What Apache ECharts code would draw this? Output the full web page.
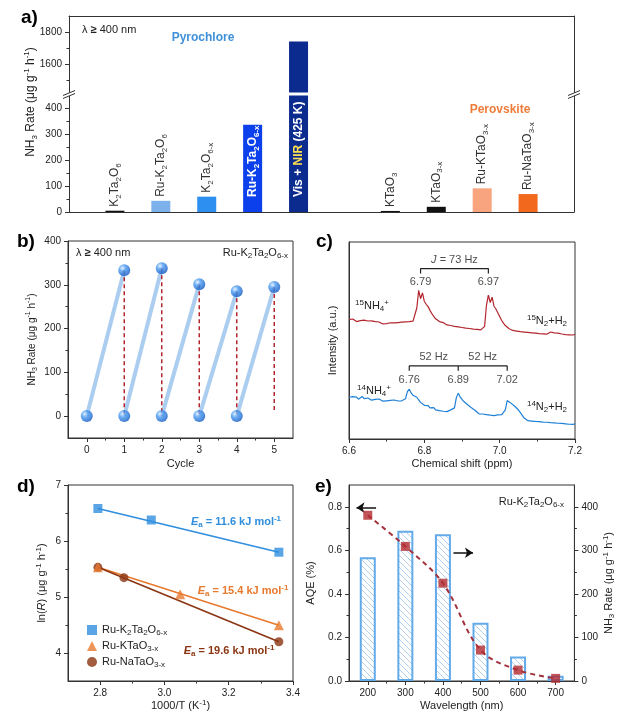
<!DOCTYPE html>
<html><head><meta charset="utf-8">
<script src="https://cdn.jsdelivr.net/npm/echarts@6/dist/echarts.min.js"></script>
<style>html,body{margin:0;padding:0;background:#fff}#c{width:617px;height:722px}</style>
</head><body><div id="c"></div>
<script>
const FONT = '"Liberation Sans", Arial, Helvetica, sans-serif';

// ================= DATA =================
// Panel a
const catA = ['', 'K2Ta2O6', 'Ru-K2Ta2O6', 'K2Ta2O6-x', 'Ru-K2Ta2O6-x', 'Vis + NIR (425 K)', '', 'KTaO3', 'KTaO3-x', 'Ru-KTaO3-x', 'Ru-NaTaO3-x', ''];
const rateA = [null, 5, 43, 59, 336, 1740, null, 4, 20, 91, 69, null];
const colorA = [null, '#111111', '#7db1ec', '#2d8ff0', '#0b40ec', '#0c2b8e', null, '#111111', '#111111', '#f8a47e', '#f2681c', null];
const ticksAUp = [1600, 1800], minorAUp = [1500, 1700];
const ticksALow = [0, 100, 200, 300, 400], minorALow = [50, 150, 250, 350];

// Panel b
const cycleStart = [0, 1, 2, 3, 4];
const baseB = [0, 0, 0, 0, 0];
const peakB = [333, 338, 301, 285, 295];
const dropB = [0, 0, 0, 0, 8];
const ticksBx = [0, 1, 2, 3, 4, 5], minorBx = [0.5, 1.5, 2.5, 3.5, 4.5];
const ticksBy = [0, 100, 200, 300, 400], minorBy = [50, 150, 250, 350];

// Panel c (1H NMR)
const ppmStart = 6.6, ppmStep = 0.005;
const red15 = [60.6,60.0,60.9,60.2,59.6,60.5,60.1,59.4,60.3,60.8,59.9,59.3,60.0,59.1,59.6,58.7,59.4,59.0,58.4,59.2,
58.6,58.2,59.0,58.5,58.9,58.3,59.1,58.7,59.3,58.8,59.5,59.0,59.6,59.2,59.8,60.3,66.5,75.5,71.2,74.2,
69.8,68.4,67.2,65.3,63.6,62.2,61.0,60.1,59.6,58.8,59.1,58.3,57.9,58.5,57.6,57.9,57.2,57.8,56.9,57.4,
56.6,57.1,56.3,56.9,56.1,56.6,55.8,56.4,55.6,56.1,55.4,55.9,57.2,68.0,73.0,69.3,72.0,67.4,66.0,64.1,
62.2,60.3,58.8,57.6,56.9,56.0,55.6,55.1,55.6,54.8,55.2,54.5,55.0,54.3,54.8,54.1,54.6,53.9,54.4,53.7,
54.2,53.5,54.0,53.4,53.9,53.2,53.8,54.3,53.5,53.9,53.1,53.7,54.0,53.3,53.8,53.0,53.5,52.9,53.4,52.8,53.2];
const blue14 = [21.2,20.6,21.5,20.8,21.3,20.2,20.9,21.6,20.5,20.0,20.8,20.3,19.7,20.5,20.1,19.5,20.3,19.8,19.2,20.0,
19.4,18.9,19.6,19.1,19.8,18.8,19.3,18.7,19.4,18.9,20.4,24.0,25.3,23.4,22.2,21.9,21.2,19.8,18.6,17.6,
17.1,16.4,16.9,15.8,15.3,15.9,14.8,15.2,14.4,14.9,14.1,14.6,13.9,14.5,14.8,14.2,15.8,21.0,23.2,21.4,
20.1,19.0,18.2,17.4,16.6,15.9,15.3,14.5,13.6,12.8,12.3,12.7,11.9,12.4,11.6,12.1,11.4,11.9,11.5,12.2,
11.7,12.3,12.0,14.8,19.5,19.0,18.2,17.3,16.6,15.6,14.7,13.4,12.0,10.6,9.8,9.3,9.8,9.1,9.6,8.9,
9.4,8.8,9.3,8.6,9.1,8.5,9.0,8.3,8.9,8.2,8.7,8.0,8.6,7.9,8.4,7.7,8.2,7.5,8.0,7.4,7.7];
const peaks15 = [6.79, 6.97];
const peaks14 = [6.76, 6.89, 7.02];
const ticksCx = [6.6, 6.8, 7.0, 7.2], minorCx = [6.7, 6.9, 7.1];

// Panel d (Arrhenius)
const namesD = ['Ru-K2Ta2O6-x', 'Ru-KTaO3-x', 'Ru-NaTaO3-x'];
const invT_K2 = [2.793, 2.959, 3.356], lnR_K2 = [6.58, 6.375, 5.80];
const invT_KT = [2.793, 3.049, 3.356], lnR_KT = [5.53, 5.05, 4.495];
const invT_NT = [2.793, 2.874, 3.356], lnR_NT = [5.53, 5.345, 4.20];
const eaD = ['11.6', '15.4', '19.6'];
const ticksDx = [2.8, 3.0, 3.2, 3.4], minorDx = [2.9, 3.1, 3.3];
const ticksDy = [4, 5, 6, 7], minorDy = [4.5, 5.5, 6.5];

// Panel e (AQE)
const wlE = [200, 300, 400, 500, 600, 700];
const rateE = [284, 345, 337, 134, 56, 12];
const aqeE = [0.761, 0.618, 0.449, 0.142, 0.050, 0.012];
const ticksEx = [200, 300, 400, 500, 600, 700], minorEx = [250, 350, 450, 550, 650];
const ticksEy = [0, 0.2, 0.4, 0.6, 0.8], minorEy = [0.1, 0.3, 0.5, 0.7];
const ticksEr = [0, 100, 200, 300, 400], minorEr = [50, 150, 250, 350];

// ================= HELPERS =================
function chem(s) { return s.replace(/([A-Za-z\)])(\d+(?:-x)?)/g, (m, a, b) => a + '{sub|' + b + '}'); }
function richE(size, weight, extra) {
  const w = weight || 'normal';
  const s = Math.round(size * 0.7);
  const base = { fontFamily: FONT, fontWeight: w };
  return Object.assign({
    sub: Object.assign({}, base, { fontSize: s, verticalAlign: 'bottom', lineHeight: s + 2 }),
    sup: Object.assign({}, base, { fontSize: s, verticalAlign: 'top', lineHeight: s + 2 }),
    i: Object.assign({}, base, { fontSize: size, fontStyle: 'italic' }),
    b: Object.assign({}, base, { fontSize: size, fontWeight: 'bold' })
  }, extra || {});
}
const AX = '#333', TX = '#222';
const X = [], Y = [];
function vAxis(o) {
  return {
    type: 'value', gridIndex: o.g, min: o.min, max: o.max, position: o.pos,
    splitLine: { show: false },
    axisLine: { show: o.line !== false, onZero: false, lineStyle: { color: AX, width: 1 } },
    axisTick: o.ticks ? { show: true, customValues: o.ticks, length: o.tl || 4, lineStyle: { color: AX, width: 1 } } : { show: false },
    axisLabel: o.labels ? { show: true, customValues: o.labels, margin: 7, fontSize: 10, color: TX, fontFamily: FONT,
      formatter: o.fmt || (v => String(v)) } : { show: false },
    name: o.name || '', nameLocation: 'middle', nameGap: o.gap || 0, nameRotate: o.rot,
    nameTextStyle: { fontSize: o.ns || 11, color: TX, fontFamily: FONT, lineHeight: 14, rich: richE(o.ns || 11) }
  };
}
function addX(o) { X.push(vAxis(o)); return X.length - 1; }
function addY(o) { Y.push(vAxis(o)); return Y.length - 1; }
const f1 = v => v.toFixed(1);

// ================= AXES =================
const upMin = 1422, upMax = 1900, lowMax = 448;
function catAxis(g, pos) {
  return { type: 'category', gridIndex: g, data: catA, boundaryGap: false, position: pos,
    axisLine: { show: true, onZero: false, lineStyle: { color: AX, width: 1 } },
    axisTick: { show: false }, axisLabel: { show: false } };
}
X.push(catAxis(0, 'top')); const xAu = 0;
X.push(catAxis(1, 'bottom')); const xAl = 1;
const yAu = addY({ g: 0, min: upMin, max: upMax, pos: 'left', labels: ticksAUp, ticks: ticksAUp });
addY({ g: 0, min: upMin, max: upMax, pos: 'left', line: false, ticks: minorAUp, tl: 2.5 });
addY({ g: 0, min: upMin, max: upMax, pos: 'right' });
const yAl = addY({ g: 1, min: 0, max: lowMax, pos: 'left', labels: ticksALow, ticks: ticksALow });
addY({ g: 1, min: 0, max: lowMax, pos: 'left', line: false, ticks: minorALow, tl: 2.5 });
addY({ g: 1, min: 0, max: lowMax, pos: 'right' });

const xB = addX({ g: 2, min: -0.5, max: 5.5, pos: 'bottom', labels: ticksBx, ticks: ticksBx, name: 'Cycle', gap: 19 });
addX({ g: 2, min: -0.5, max: 5.5, pos: 'bottom', line: false, ticks: minorBx, tl: 2.5 });
const yB = addY({ g: 2, min: -50, max: 400, pos: 'left', labels: ticksBy, ticks: ticksBy, rot: 90, ns: 10,
  name: 'NH{sub|3} Rate (μg g{sup|-1} h{sup|-1})', gap: 29 });
addY({ g: 2, min: -50, max: 400, pos: 'left', line: false, ticks: minorBy, tl: 2.5 });

const xC = addX({ g: 3, min: 6.6, max: 7.2, pos: 'bottom', labels: ticksCx, ticks: ticksCx, fmt: f1, name: 'Chemical shift (ppm)', gap: 18 });
addX({ g: 3, min: 6.6, max: 7.2, pos: 'bottom', line: false, ticks: minorCx, tl: 2.5 });
const yC = addY({ g: 3, min: 0, max: 100, pos: 'left', rot: 90, name: 'Intensity (a.u.)', gap: 9 });

const xD = addX({ g: 4, min: 2.7, max: 3.4, pos: 'bottom', labels: ticksDx, ticks: ticksDx, fmt: f1, name: '1000/T (K{sup|-1})', gap: 13 });
addX({ g: 4, min: 2.7, max: 3.4, pos: 'bottom', line: false, ticks: minorDx, tl: 2.5 });
const yD = addY({ g: 4, min: 3.5, max: 7, pos: 'left', labels: ticksDy, ticks: ticksDy, rot: 90,
  name: 'ln({i|R}) (μg g{sup|-1} h{sup|-1})', gap: 19 });
addY({ g: 4, min: 3.5, max: 7, pos: 'left', line: false, ticks: minorDy, tl: 2.5 });

const xE = addX({ g: 5, min: 150, max: 750, pos: 'bottom', labels: ticksEx, ticks: ticksEx, name: 'Wavelength (nm)', gap: 13 });
addX({ g: 5, min: 150, max: 750, pos: 'bottom', line: false, ticks: minorEx, tl: 2.5 });
const yE = addY({ g: 5, min: 0, max: 0.9, pos: 'left', labels: ticksEy, ticks: ticksEy, fmt: f1, rot: 90, name: 'AQE (%)', gap: 31 });
addY({ g: 5, min: 0, max: 0.9, pos: 'left', line: false, ticks: minorEy, tl: 2.5 });
const yE2 = addY({ g: 5, min: 0, max: 450, pos: 'right', labels: ticksEr, ticks: ticksEr, rot: 90,
  name: 'NH{sub|3} Rate (μg g{sup|-1} h{sup|-1})', gap: 27 });
addY({ g: 5, min: 0, max: 450, pos: 'right', line: false, ticks: minorEr, tl: 2.5 });

// ================= SERIES =================
const S = [];
// Panel a
S.push({ type: 'bar', xAxisIndex: xAu, yAxisIndex: yAu, barWidth: 19, clip: true,
  data: rateA.map((v, i) => (v != null && v > upMin) ? { value: v, itemStyle: { color: colorA[i] } } : null) });
S.push({ type: 'bar', xAxisIndex: xAl, yAxisIndex: yAl, barWidth: 19, clip: true,
  data: rateA.map((v, i) => {
    if (v == null) return null;
    const inside = v > 250;
    return { value: v, itemStyle: { color: colorA[i] },
      label: inside
        ? { show: true, position: 'insideBottom', distance: 15, rotate: 90, align: 'left', verticalAlign: 'middle',
            color: '#fff', fontWeight: 'bold', fontSize: 12, fontFamily: FONT, lineHeight: 16,
            rich: richE(12, 'bold', { y: { fontSize: 12, fontWeight: 'bold', fontFamily: FONT, color: '#ffe04f' } }) }
        : { show: true, position: 'top', distance: 4, rotate: 90, align: 'left', verticalAlign: 'middle',
            color: '#333', fontSize: 12, fontFamily: FONT, lineHeight: 16, rich: richE(12) } };
  }),
  label: { formatter: p => chem(catA[p.dataIndex]).replace('NIR', '{y|NIR}') } });

// Panel b
cycleStart.forEach((c, k) => {
  S.push({ type: 'line', xAxisIndex: xB, yAxisIndex: yB, symbol: 'none', silent: true,
    lineStyle: { color: '#abcdef', width: 4 }, data: [[c, baseB[k]], [c + 1, peakB[k]]] });
});
cycleStart.forEach((c, k) => {
  S.push({ type: 'line', xAxisIndex: xB, yAxisIndex: yB, symbol: 'none', silent: true,
    lineStyle: { color: '#b3262e', width: 1.5, type: [4, 3] }, data: [[c + 1, peakB[k]], [c + 1, dropB[k]]] });
});
const sphere = { type: 'radial', x: 0.35, y: 0.32, r: 0.75,
  colorStops: [{ offset: 0, color: '#e3f1ff' }, { offset: 0.35, color: '#4c9cf2' }, { offset: 1, color: '#0a52bd' }] };
S.push({ type: 'scatter', xAxisIndex: xB, yAxisIndex: yB, symbolSize: 12, z: 5,
  itemStyle: { color: sphere },
  data: cycleStart.map((c, k) => [c, baseB[k]]).concat(cycleStart.map((c, k) => [c + 1, peakB[k]])) });

// Panel c
const ppmC = red15.map((_, i) => +(ppmStart + i * ppmStep).toFixed(3));
S.push({ type: 'line', xAxisIndex: xC, yAxisIndex: yC, symbol: 'none', silent: true,
  lineStyle: { color: '#b3262e', width: 1.2 }, data: ppmC.map((x, i) => [x, red15[i]]) });
S.push({ type: 'line', xAxisIndex: xC, yAxisIndex: yC, symbol: 'none', silent: true,
  lineStyle: { color: '#1f80d8', width: 1.2 }, data: ppmC.map((x, i) => [x, blue14[i]]) });
// brackets
const brk15Top = 86.5, brk15Bot = 84.0, brk14Top = 37.1, brk14Bot = 34.7;
S.push({ type: 'line', xAxisIndex: xC, yAxisIndex: yC, symbol: 'none', silent: true, lineStyle: { color: '#222', width: 1.2 },
  data: [[peaks15[0], brk15Bot], [peaks15[0], brk15Top], [peaks15[1], brk15Top], [peaks15[1], brk15Bot]] });
S.push({ type: 'line', xAxisIndex: xC, yAxisIndex: yC, symbol: 'none', silent: true, lineStyle: { color: '#222', width: 1.2 },
  data: [[peaks14[0], brk14Bot], [peaks14[0], brk14Top], [peaks14[2], brk14Top], [peaks14[2], brk14Bot]] });
S.push({ type: 'line', xAxisIndex: xC, yAxisIndex: yC, symbol: 'none', silent: true, lineStyle: { color: '#222', width: 1.2 },
  data: [[peaks14[1], brk14Top], [peaks14[1], brk14Bot]] });
const lblC = { show: true, position: 'inside', color: TX, fontSize: 11, fontFamily: FONT, lineHeight: 14, rich: richE(11) };
S.push({ type: 'scatter', xAxisIndex: xC, yAxisIndex: yC, symbolSize: 0, silent: true,
  label: Object.assign({}, lblC, { formatter: p => p.value[0].toFixed(2) }),
  data: peaks15.map(p => [p, 79.8]).concat(peaks14.map(p => [p, 30.0])) });
S.push({ type: 'scatter', xAxisIndex: xC, yAxisIndex: yC, symbolSize: 0, silent: true,
  label: Object.assign({}, lblC, { formatter: p => p.value[2] }),
  data: [[(peaks15[0] + peaks15[1]) / 2, 90.7, '{i|J} = 73 Hz'],
         [(peaks14[0] + peaks14[1]) / 2, 41.8, '52 Hz'],
         [(peaks14[1] + peaks14[2]) / 2, 41.8, '52 Hz']] });

// Panel d
const colD = ['#2f8ede', '#e8792e', '#8b3512'];
const symD = ['rect', 'triangle', 'circle'];
[[invT_K2, lnR_K2], [invT_KT, lnR_KT], [invT_NT, lnR_NT]].forEach((d, k) => {
  const [xs, ys] = d, n = xs.length - 1;
  S.push({ type: 'line', name: 'fit' + k, xAxisIndex: xD, yAxisIndex: yD, symbol: 'none', silent: true,
    lineStyle: { color: colD[k], width: 1.6 }, data: [[xs[0], ys[0]], [xs[n], ys[n]]] });
});
[[invT_K2, lnR_K2], [invT_KT, lnR_KT], [invT_NT, lnR_NT]].forEach((d, k) => {
  S.push({ type: 'scatter', name: namesD[k], xAxisIndex: xD, yAxisIndex: yD, symbol: symD[k], symbolSize: k === 1 ? 10 : 9,
    itemStyle: { color: colD[k] }, z: 5 + (2 - k), data: d[0].map((x, i) => [x, d[1][i]]) });
});

// Panel e
const hatch = document.createElement('canvas');
hatch.width = 6; hatch.height = 6;
(function () {
  const c = hatch.getContext('2d');
  c.fillStyle = '#ffffff'; c.fillRect(0, 0, 6, 6);
  c.strokeStyle = '#9cc4e8'; c.lineWidth = 0.8;
  c.beginPath(); c.moveTo(-1, -1); c.lineTo(7, 7); c.moveTo(-1, 5); c.lineTo(1, 7); c.moveTo(5, -1); c.lineTo(7, 1); c.stroke();
})();
S.push({ type: 'bar', xAxisIndex: xE, yAxisIndex: yE2, barWidth: 16, silent: true,
  itemStyle: { color: { image: hatch, repeat: 'repeat' }, borderColor: '#62aae8', borderWidth: 2 },
  data: wlE.map((w, i) => [w, rateE[i]]) });
S.push({ type: 'line', xAxisIndex: xE, yAxisIndex: yE, symbol: 'none', smooth: 0.35, silent: true,
  lineStyle: { color: '#a3323c', width: 2, type: [5, 4] }, data: wlE.map((w, i) => [w, aqeE[i]]) });
const arrowsE = [[[222, 0.796], [170, 0.796]], [[428, 0.589], [480, 0.589]]];
S.push({ type: 'scatter', xAxisIndex: xE, yAxisIndex: yE, symbol: 'rect', symbolSize: 9, z: 6,
  itemStyle: { color: '#b22a30' }, data: wlE.map((w, i) => [w, aqeE[i]]),
  markLine: { silent: true, symbol: ['none', 'arrow'], symbolSize: 8, animation: false,
    lineStyle: { color: '#111', width: 1.5, type: 'solid' }, label: { show: false },
    data: arrowsE.map(a => [{ coord: a[0] }, { coord: a[1] }]) } });

// ================= GRAPHICS (text annotations) =================
function gtext(x, y, text, o) {
  o = o || {};
  const size = o.size || 11;
  return { type: 'text', x: x, y: y, rotation: o.rot || 0, z: 100, silent: true,
    style: { text: text, fontSize: size, fontFamily: FONT, fontWeight: o.weight || 'normal', fill: o.color || TX,
      align: o.align || 'left', verticalAlign: 'middle', textAlign: o.align || 'left', textVerticalAlign: 'middle',
      lineHeight: Math.round(size * 1.3), rich: richE(size, o.weight) } };
}
function breakMark(x, y) {
  return [
    { type: 'polygon', z: 90, silent: true, shape: { points: [[x - 6, y + 1.5], [x + 6, y - 3.5], [x + 6, y - 0.5], [x - 6, y + 4.5]] }, style: { fill: '#fff' } },
    { type: 'line', z: 91, silent: true, shape: { x1: x - 6, y1: y + 1.5, x2: x + 6, y2: y - 3.5 }, style: { stroke: AX, lineWidth: 1 } },
    { type: 'line', z: 91, silent: true, shape: { x1: x - 6, y1: y + 4.5, x2: x + 6, y2: y - 0.5 }, style: { stroke: AX, lineWidth: 1 } }
  ];
}
const G = [
  gtext(21, 17.5, 'a)', { size: 19, weight: 'bold', color: '#000' }),
  gtext(17, 242, 'b)', { size: 19, weight: 'bold', color: '#000' }),
  gtext(316, 242, 'c)', { size: 19, weight: 'bold', color: '#000' }),
  gtext(17, 487, 'd)', { size: 19, weight: 'bold', color: '#000' }),
  gtext(315, 487, 'e)', { size: 19, weight: 'bold', color: '#000' }),
  // a
  gtext(82, 29.5, 'λ {b|≥} 400 nm', { size: 11 }),
  gtext(203, 37.5, 'Pyrochlore', { size: 12, weight: 'bold', color: '#3e90da', align: 'center' }),
  gtext(500, 110, 'Perovskite', { size: 12, weight: 'bold', color: '#ef7c3a', align: 'center' }),
  gtext(31, 102, 'NH{sub|3} Rate (μg g{sup|-1} h{sup|-1})', { size: 12, rot: Math.PI / 2, align: 'center' }),
  // b
  gtext(76, 252.5, 'λ {b|≥} 400 nm', { size: 11 }),
  gtext(288, 252.5, chem('Ru-K2Ta2O6-x'), { size: 11, align: 'right' }),
  // c
  gtext(372, 306, '{sup|15}NH{sub|4}{sup|+}', { size: 11, align: 'center' }),
  gtext(547, 321, '{sup|15}N{sub|2}+H{sub|2}', { size: 11, align: 'center' }),
  gtext(374, 391, '{sup|14}NH{sub|4}{sup|+}', { size: 11, align: 'center' }),
  gtext(547, 407, '{sup|14}N{sub|2}+H{sub|2}', { size: 11, align: 'center' }),
  // d
  gtext(236, 521.5, '{i|E}{sub|a} = ' + eaD[0] + ' kJ mol{sup|-1}', { size: 11, weight: 'bold', color: colD[0], align: 'center' }),
  gtext(243, 590.5, '{i|E}{sub|a} = ' + eaD[1] + ' kJ mol{sup|-1}', { size: 11, weight: 'bold', color: colD[1], align: 'center' }),
  gtext(229, 650.5, '{i|E}{sub|a} = ' + eaD[2] + ' kJ mol{sup|-1}', { size: 11, weight: 'bold', color: colD[2], align: 'center' }),
  // e
  gtext(564, 501.5, chem('Ru-K2Ta2O6-x'), { size: 11, align: 'right' })
].concat(breakMark(69, 94), breakMark(574, 94));

// ================= OPTION =================
const option = {
  animation: false,
  backgroundColor: '#ffffff',
  textStyle: { fontFamily: FONT },
  grid: [
    { left: 69, top: 16, width: 505, height: 76.5 },
    { left: 69, top: 95.5, width: 505, height: 116.5 },
    { left: 68, top: 241, width: 225, height: 197, show: true, borderColor: AX, borderWidth: 1 },
    { left: 349, top: 242, width: 226, height: 197, show: true, borderColor: AX, borderWidth: 1 },
    { left: 68, top: 485, width: 225, height: 196, show: true, borderColor: AX, borderWidth: 1 },
    { left: 349, top: 485, width: 227, height: 196, show: true, borderColor: AX, borderWidth: 1 }
  ],
  xAxis: X,
  yAxis: Y,
  legend: {
    data: namesD.map((n, k) => ({ name: n, icon: symD[k] })),
    orient: 'vertical', left: 82, top: 618, itemWidth: 10, itemHeight: 10, itemGap: 2, selectedMode: false,
    formatter: n => chem(n),
    textStyle: { fontSize: 11, color: TX, fontFamily: FONT, lineHeight: 14, rich: richE(11) }
  },
  series: S,
  graphic: G
};
const chart = echarts.init(document.getElementById('c'), null, { renderer: 'canvas' });
chart.setOption(option);
</script></body></html>
